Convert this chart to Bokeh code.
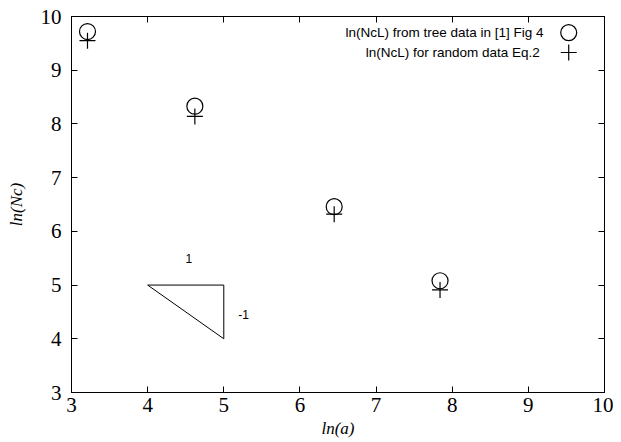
from bokeh.plotting import figure
from bokeh.models import LinearAxis, Range1d, FixedTicker
from bokeh.core.properties import value
from bokeh.embed import file_html
from bokeh.resources import INLINE

# data
ln_a = [3.21, 4.62, 6.45, 7.84]
ln_ncl_tree = [9.72, 8.33, 6.46, 5.08]
ln_ncl_random = [9.55, 8.14, 6.32, 4.91]
ticks = [3, 4, 5, 6, 7, 8, 9, 10]
tri_x = [4, 5, 5]
tri_y = [5, 5, 4]
legend_labels = ["ln(NcL) from tree data in [1] Fig 4", "ln(NcL) for  random data Eq.2"]

p = figure(width=613, height=440, output_backend="svg", toolbar_location=None,
           x_range=Range1d(3, 10), y_range=Range1d(3, 10),
           min_border_left=71, min_border_right=9, min_border_top=16, min_border_bottom=41)
p.grid.visible = False
p.background_fill_color = "white"
p.border_fill_color = "white"
p.outline_line_color = "black"
p.outline_line_width = 1

serif = "Liberation Serif"
for ax in (p.xaxis[0], p.yaxis[0]):
    ax.ticker = FixedTicker(ticks=ticks)
    ax.major_tick_in = 6
    ax.major_tick_out = 0
    ax.minor_tick_line_color = None
    ax.major_label_text_font = serif
    ax.major_label_text_font_size = "21px"
    ax.major_label_text_color = "black"
    ax.axis_line_color = "black"
    ax.major_tick_line_color = "black"
    ax.axis_label_text_font = serif
    ax.axis_label_text_font_style = "italic"
    ax.axis_label_text_font_size = "17px"
    ax.axis_label_text_color = "black"

p.xaxis[0].axis_label = "ln(a)"
p.xaxis[0].major_label_standoff = 5
p.xaxis[0].axis_label_standoff = 4
p.yaxis[0].axis_label = "ln(Nc)"
p.yaxis[0].major_label_standoff = 10
p.yaxis[0].axis_label_standoff = 12

for loc in ("right", "above"):
    a = LinearAxis(ticker=FixedTicker(ticks=ticks), major_tick_in=6, major_tick_out=0,
                   minor_tick_line_color=None, major_label_text_font_size="1px",
                   major_label_text_color=None, major_label_standoff=0,
                   axis_line_color="black")
    p.add_layout(a, loc)

p.scatter(ln_a, ln_ncl_tree, marker="circle", size=16, fill_color=None,
          line_color="black", line_width=1.2)
p.scatter(ln_a, ln_ncl_random, marker="cross", size=16,
          line_color="black", line_width=1.2)

# slope triangle
p.patch(tri_x + [tri_x[0]], tri_y + [tri_y[0]], fill_color=None, line_color="black", line_width=1)
p.text([4.54], [5.5], text=["1"], text_font=value("Liberation Sans"), text_font_size="12px",
       text_align="center", text_baseline="middle", text_color="black")
p.text([5.26], [4.46], text=["-1"], text_font=value("Liberation Sans"), text_font_size="12px",
       text_align="center", text_baseline="middle", text_color="black")

# legend (gnuplot style: label then marker)
leg_y = [9.70, 9.33]
p.text([9.2, 9.2], leg_y, text=legend_labels, text_font=value("Liberation Sans"),
       text_font_size="13.5px", text_align="right", text_baseline="middle", text_color="black")
p.scatter([9.53], [leg_y[0]], marker="circle", size=16, fill_color=None,
          line_color="black", line_width=1.2)
p.scatter([9.53], [leg_y[1]], marker="cross", size=16, line_color="black", line_width=1.2)

open("out.html", "w").write(file_html(p, INLINE))
